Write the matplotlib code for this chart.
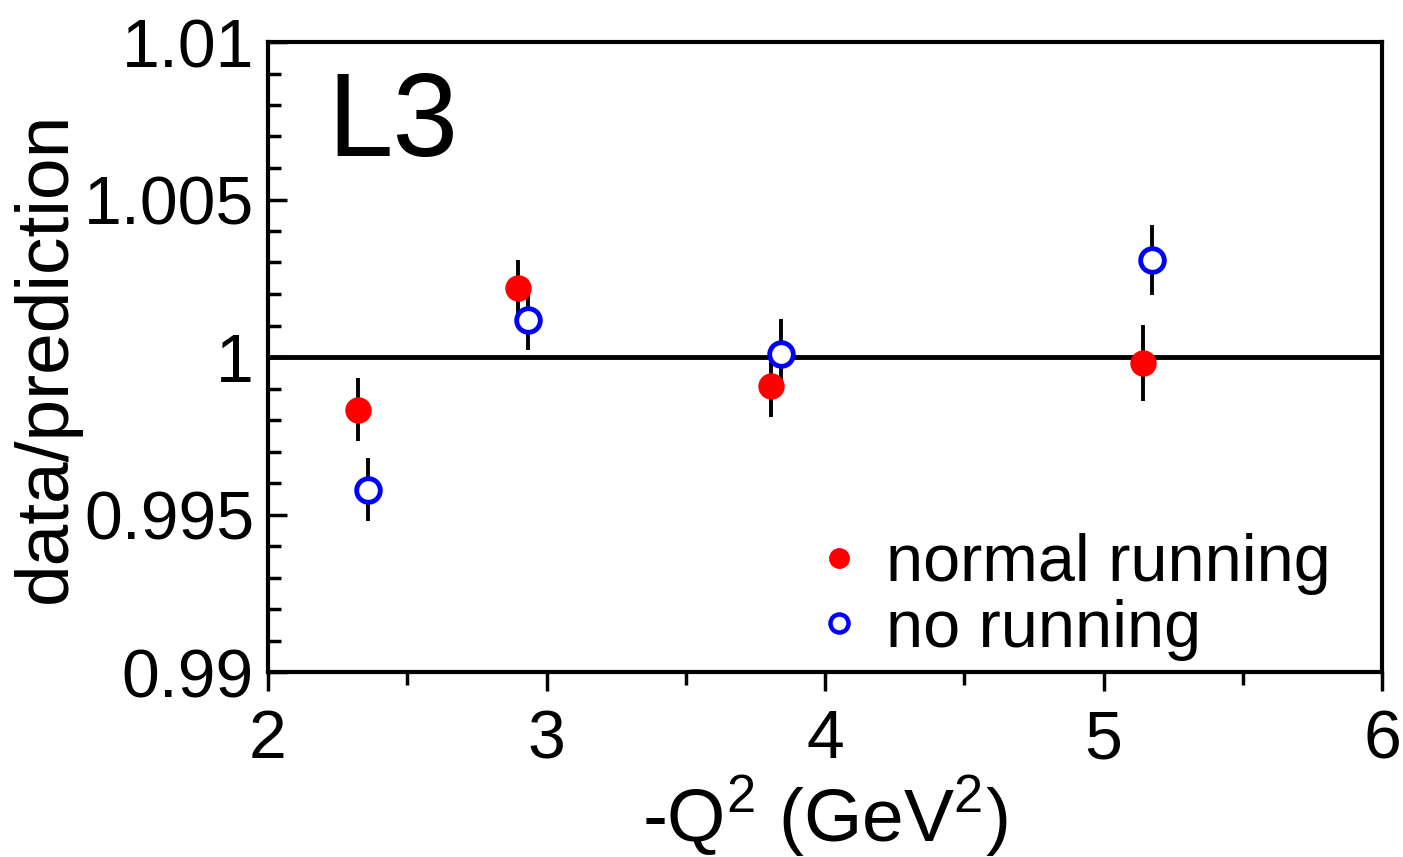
import numpy as np
import matplotlib.pyplot as plt
from matplotlib.lines import Line2D

plt.rcParams['font.family'] = ['Liberation Sans', 'DejaVu Sans']
plt.rcParams['mathtext.fontset'] = 'custom'
plt.rcParams['mathtext.rm'] = 'Liberation Sans'

# normal running (filled red)
x_norm = [2.323, 2.898, 3.806, 5.142]
y_norm = [0.99832, 1.00219, 0.99908, 0.99981]
e_norm = [0.0010, 0.0009, 0.0010, 0.0012]

# no running (open blue)
x_none = [2.359, 2.934, 3.842, 5.174]
y_none = [0.99578, 1.00117, 1.00010, 1.00308]
e_none = [0.0010, 0.00095, 0.0011, 0.0011]

fig = plt.figure(figsize=(14.03, 8.57), dpi=100)
ax = fig.add_axes([268/1403, 1-672/857, (1382-268)/1403, (672-42)/857])

ax.axhline(1.0, color='black', lw=3.5, zorder=1)

ax.errorbar(x_norm, y_norm, yerr=e_norm, fmt='o', color='red', ms=18,
            ecolor='black', elinewidth=2.8, capsize=0, zorder=3)
ax.errorbar(x_none, y_none, yerr=e_none, fmt='o', mfc='white', mec='blue', mew=3.5, ms=17,
            ecolor='black', elinewidth=2.8, capsize=0, zorder=3)

ax.set_xlim(2, 6)
ax.set_ylim(0.99, 1.01)
ax.set_xticks([2, 3, 4, 5, 6])
ax.set_xticks([2.5, 3.5, 4.5, 5.5], minor=True)
ax.set_yticks([0.99, 0.995, 1.0, 1.005, 1.01])
ax.set_yticks(np.arange(0.99, 1.0101, 0.001), minor=True)
ax.set_yticklabels(['0.99', '0.995', '1', '1.005', '1.01'])

for s in ax.spines.values():
    s.set_linewidth(3)
ax.tick_params(axis='x', which='major', direction='out', length=14, width=2.5, labelsize=49, pad=12)
ax.tick_params(axis='x', which='minor', direction='out', length=9, width=2.5)
ax.tick_params(axis='y', which='major', direction='in', length=14, width=2.5, labelsize=49, pad=10)
ax.tick_params(axis='y', which='minor', direction='in', length=9, width=2.5)

ax.set_xlabel('-Q$^2$ (GeV$^2$)', fontsize=54, labelpad=1)
ax.set_ylabel('data/prediction', fontsize=54, labelpad=2)

ax.text(0.053, 0.955, 'L3', transform=ax.transAxes, fontsize=85, va='top', ha='left')

handles = [Line2D([], [], ls='none', marker='o', color='red', ms=14),
           Line2D([], [], ls='none', marker='o', mfc='white', mec='blue', mew=3.2, ms=13)]
ax.legend(handles, ['normal running', 'no running'], loc='lower right',
          bbox_to_anchor=(1.008, -0.077), frameon=False, fontsize=48,
          handletextpad=0.1, labelspacing=0.05, handlelength=1.2)

fig.savefig('out.png', dpi=100)
